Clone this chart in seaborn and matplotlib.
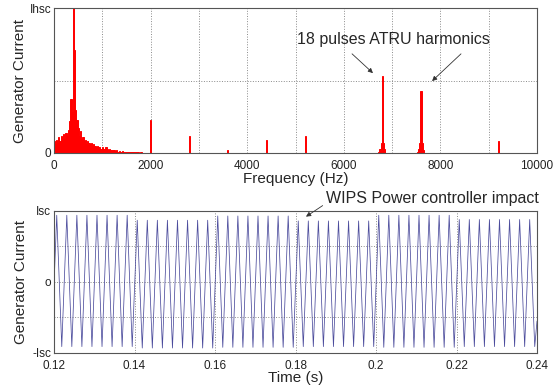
import numpy as np
import pandas as pd
import matplotlib
matplotlib.use("Agg")
import matplotlib.pyplot as plt
import seaborn as sns

# spectrum, low frequency part (25 Hz bins, 0 .. 1975 Hz), fraction of Ihsc
low_freqs = list(range(0, 2000, 25))
low_amps = [
    0.08, 0.06, 0.09, 0.07, 0.11, 0.08, 0.12, 0.09, 0.13, 0.10,
    0.14, 0.12, 0.16, 0.22, 0.37, 0.28, 1.00, 0.71, 0.30, 0.23,
    0.17, 0.12, 0.15, 0.10, 0.11, 0.08, 0.09, 0.06, 0.08, 0.07,
    0.06, 0.07, 0.05, 0.06, 0.05, 0.04, 0.05, 0.04, 0.04, 0.03,
    0.04, 0.03, 0.03, 0.04, 0.03, 0.02, 0.03, 0.02, 0.02, 0.02,
    0.02, 0.015, 0.02, 0.01, 0.015, 0.01, 0.01, 0.012, 0.01, 0.008,
    0.008, 0.01, 0.006, 0.008, 0.005, 0.006, 0.005, 0.004, 0.005, 0.004,
    0.004, 0.003, 0.004, 0.003, 0.003, 0.003, 0.002, 0.003, 0.002, 0.002,
]

# harmonic lines
harm_freqs = [2000, 2800, 3600, 4400, 5200,
              6725, 6750, 6775, 6800, 6825, 6850,
              7525, 7550, 7575, 7600, 7625, 7650, 9200]
harm_amps = [0.23, 0.12, 0.02, 0.09, 0.12,
             0.005, 0.03, 0.07, 0.53, 0.07, 0.03,
             0.005, 0.03, 0.07, 0.43, 0.07, 0.02, 0.08]

# generator current, 400 Hz, peaks/troughs per cycle (fraction of Isc)
t_start, t_end = 0.12, 0.24
f_gen = 400.0
first_peak = 0.12068
peak_vals = [0.94] * 8 + [0.87] * 8 + [0.93] * 8 + [0.86] * 8 + [0.94] * 8 + [0.88] * 8
trough_vals = [-0.91] * 8 + [-0.93] * 8 + [-0.92] * 8 + [-0.91] * 8 + [-0.92] * 8 + [-0.91] * 8

spec = pd.DataFrame({"freq": low_freqs + harm_freqs, "amp": low_amps + harm_amps})

period = 1.0 / f_gen
t_pts = [t_start]
i_pts = [-0.05]
for k in range(len(peak_vals)):
    t_pts += [first_peak + k * period, first_peak + (k + 0.5) * period]
    i_pts += [peak_vals[k], trough_vals[k]]
t_pts.append(t_end)
i_pts.append(-0.55)
wave = pd.DataFrame({"t": t_pts, "i": i_pts})

sns.set_style("white")
plt.rcParams["font.family"] = ["Liberation Sans", "DejaVu Sans"]

fig = plt.figure(figsize=(5.55, 3.91), dpi=100)
ax1 = fig.add_axes([0.0973, 0.6087, 0.8703, 0.3708])
ax2 = fig.add_axes([0.0973, 0.0972, 0.8703, 0.3632])

grid_kw = dict(color="#8a8a8a", linestyle=":", linewidth=0.7)

# top: spectrum
sns.histplot(data=spec, x="freq", weights="amp", binwidth=25, binrange=(-12.5, 10012.5),
             color="#ff0000", alpha=1, linewidth=0.7, edgecolor="#ff0000", ax=ax1)
ax1.set_xlim(0, 10000)
ax1.set_ylim(0, 1)
ax1.set_xticks(range(0, 10001, 1000))
ax1.set_xticklabels([str(v) if v % 2000 == 0 else "" for v in range(0, 10001, 1000)])
ax1.set_yticks([0, 0.5, 1])
ax1.set_yticklabels(["0", "", "Ihsc"])
ax1.grid(True, **grid_kw)
ax1.set_xlabel("Frequency (Hz)", fontsize=11, labelpad=0)
ax1.set_ylabel("Generator Current", fontsize=11, labelpad=2)
ax1.annotate("", xy=(6646, 0.538), xytext=(6128, 0.697),
             arrowprops=dict(arrowstyle="-|>", color="#333333", lw=0.6, mutation_scale=7))
ax1.annotate("", xy=(7785, 0.483), xytext=(8468, 0.697),
             arrowprops=dict(arrowstyle="-|>", color="#333333", lw=0.6, mutation_scale=7))
ax1.text(7029, 0.78, "18 pulses ATRU harmonics", fontsize=11.5, ha="center", va="center")

# bottom: time signal
sns.lineplot(data=wave, x="t", y="i", color="#4b4b9c", linewidth=0.55, ax=ax2)
ax2.set_xlim(t_start, t_end)
ax2.set_ylim(-1, 1)
ax2.set_xticks([0.12, 0.14, 0.16, 0.18, 0.2, 0.22, 0.24])
ax2.set_xticklabels(["0.12", "0.14", "0.16", "0.18", "0.2", "0.22", "0.24"])
ax2.set_yticks([-1, -0.5, 0, 0.5, 1])
ax2.set_yticklabels(["-Isc", "", "o", "", "Isc"])
ax2.grid(True, **grid_kw)
ax2.set_xlabel("Time (s)", fontsize=11, labelpad=-1)
ax2.set_ylabel("Generator Current", fontsize=11, labelpad=3)
ax2.annotate("WIPS Power controller impact", xy=(0.1826, 0.92), xytext=(0.214, 1.17),
             fontsize=11.5, ha="center", va="center", annotation_clip=False,
             arrowprops=dict(arrowstyle="-|>", color="#333333", lw=0.6, mutation_scale=7,
                             relpos=(0.0, 0.2), shrinkA=0, shrinkB=0))

for ax in (ax1, ax2):
    ax.tick_params(axis="both", direction="in", length=3, width=0.6, labelsize=8.5,
                   pad=2, colors="#222222")
    ax.tick_params(axis="x", pad=5)
    for s in ax.spines.values():
        s.set_color("#555555")
        s.set_linewidth(0.8)

fig.savefig("out.png", dpi=100)
